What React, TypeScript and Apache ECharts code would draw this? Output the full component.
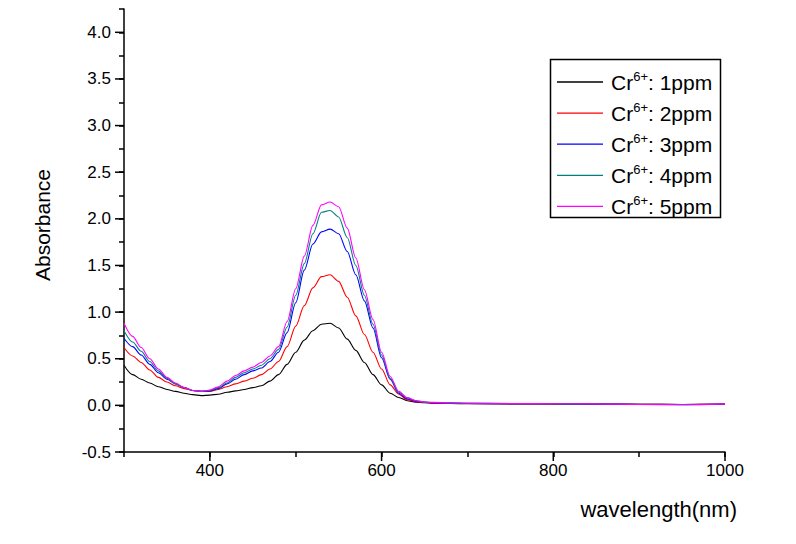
import React, { useEffect, useRef } from "react";
import * as echarts from "echarts";

const WAVELENGTH = [
  300, 310, 320, 330, 340, 350, 360, 370, 380, 390, 400, 410, 420, 430, 440, 450, 460, 470,
  480, 490, 500, 510, 520, 530, 540,
  550, 560, 570, 580, 590, 600, 610, 620, 630, 640,
  650, 660, 680, 700, 750, 800, 850, 900, 950, 1000,
];

const PPM_1 = [
  0.43, 0.33, 0.28, 0.24, 0.2, 0.17, 0.15, 0.13, 0.115, 0.105, 0.11, 0.12, 0.14, 0.155, 0.17, 0.19, 0.21, 0.26,
  0.33, 0.44, 0.57, 0.7, 0.8, 0.87, 0.88,
  0.83, 0.71, 0.59, 0.46, 0.33, 0.22, 0.13, 0.085, 0.05, 0.035,
  0.028, 0.024, 0.02, 0.018, 0.016, 0.015, 0.014, 0.012, 0.01, 0.012,
];
const PPM_2 = [
  0.62, 0.53, 0.46, 0.38, 0.3, 0.25, 0.21, 0.18, 0.16, 0.15, 0.15, 0.17, 0.2, 0.23, 0.26, 0.29, 0.33, 0.39,
  0.47, 0.63, 0.85, 1.07, 1.26, 1.38, 1.4,
  1.33, 1.16, 0.96, 0.76, 0.57, 0.39, 0.22, 0.12, 0.06, 0.04,
  0.03, 0.026, 0.022, 0.02, 0.018, 0.016, 0.015, 0.012, 0.01, 0.014,
];
const PPM_3 = [
  0.72, 0.63, 0.54, 0.44, 0.35, 0.28, 0.23, 0.19, 0.16, 0.15, 0.155, 0.18, 0.23, 0.28, 0.33, 0.37, 0.4, 0.47,
  0.57, 0.78, 1.1, 1.45, 1.73, 1.86, 1.89,
  1.84, 1.65, 1.4, 1.12, 0.83, 0.51, 0.28, 0.13, 0.07, 0.045,
  0.032, 0.028, 0.024, 0.02, 0.018, 0.018, 0.012, 0.01, 0.008, 0.015,
];
const PPM_4 = [
  0.8, 0.68, 0.58, 0.47, 0.37, 0.29, 0.23, 0.19, 0.16, 0.15, 0.16, 0.19, 0.24, 0.3, 0.35, 0.39, 0.43, 0.5,
  0.6, 0.84, 1.18, 1.52, 1.84, 2.07, 2.09,
  2.02, 1.8, 1.5, 1.18, 0.87, 0.54, 0.29, 0.14, 0.08, 0.05,
  0.035, 0.03, 0.025, 0.022, 0.02, 0.018, 0.015, 0.012, 0.01, 0.015,
];
const PPM_5 = [
  0.88, 0.74, 0.62, 0.5, 0.39, 0.3, 0.24, 0.19, 0.16, 0.15, 0.165, 0.2, 0.26, 0.32, 0.37, 0.41, 0.46, 0.53,
  0.63, 0.9, 1.25, 1.6, 1.93, 2.15, 2.18,
  2.13, 1.9, 1.58, 1.24, 0.92, 0.57, 0.31, 0.15, 0.08, 0.05,
  0.036, 0.032, 0.026, 0.024, 0.02, 0.018, 0.016, 0.01, 0.006, 0.016,
];

const SERIES_VALUES = [PPM_1, PPM_2, PPM_3, PPM_4, PPM_5];
const SERIES_LABELS = ["1ppm", "2ppm", "3ppm", "4ppm", "5ppm"];
const SERIES_COLORS = ["#000000", "#FF0000", "#0000FF", "#008080", "#FF00FF"];

const X_MIN = 300;
const X_MAX = 1000;
const Y_MIN = -0.5;
const Y_MAX = 4.25;
const X_MAJOR = [400, 600, 800, 1000];
const Y_MAJOR = [-0.5, 0, 0.5, 1, 1.5, 2, 2.5, 3, 3.5, 4];

const FONT = "'Liberation Sans', Arial, sans-serif";

export default function App() {
  const ref = useRef<HTMLDivElement>(null);

  useEffect(() => {
    if (!ref.current) return;
    const chart = echarts.init(ref.current, undefined, { renderer: "svg" });

    const names = SERIES_LABELS.map((l) => `Cr6+: ${l}`);

    const lineSeries = SERIES_VALUES.map((vals, i) => ({
      name: names[i],
      type: "line",
      data: WAVELENGTH.map((w, j) => [w, vals[j]]),
      showSymbol: false,
      symbol: "none",
      smooth: 0.3,
      smoothMonotone: "x",
      lineStyle: { color: SERIES_COLORS[i], width: 1.1 },
      itemStyle: { color: SERIES_COLORS[i] },
      z: 2 + i,
    }));

    const tickStyle = { stroke: "#000", lineWidth: 1.5 };

    const option: any = {
      animation: false,
      backgroundColor: "#fff",
      grid: { left: 124, right: 71, top: 9, bottom: 92, containLabel: false },
      xAxis: {
        type: "value",
        min: X_MIN,
        max: X_MAX,
        interval: 100,
        axisLine: { show: true, onZero: false, lineStyle: { color: "#000", width: 1.5 } },
        axisTick: { show: true, inside: false, length: 5, lineStyle: { color: "#000", width: 1.5 } },
        axisLabel: {
          color: "#000",
          fontSize: 17,
          fontFamily: FONT,
          margin: 10,
          formatter: (v: number) => (Math.round(v) % 200 === 0 ? String(Math.round(v)) : ""),
        },
        splitLine: { show: false },
      },
      yAxis: {
        type: "value",
        min: Y_MIN,
        max: Y_MAX,
        interval: 0.25,
        axisLine: { show: true, onZero: false, lineStyle: { color: "#000", width: 1.5 } },
        axisTick: { show: true, inside: false, length: 5, lineStyle: { color: "#000", width: 1.5 } },
        axisLabel: {
          color: "#000",
          fontSize: 17,
          fontFamily: FONT,
          margin: 13,
          formatter: (v: number) =>
            Math.abs(v * 2 - Math.round(v * 2)) < 1e-6 && v <= 4.0001 ? v.toFixed(1) : "",
        },
        splitLine: { show: false },
      },
      legend: {
        show: true,
        orient: "vertical",
        left: 557,
        top: 70,
        itemWidth: 46,
        itemHeight: 1.3,
        itemGap: 8.6,
        icon: "rect",
        padding: 0,
        data: names,
        formatter: (name: string) => `{f|Cr}{s|6+}{c|: ${name.split(": ")[1]}}`,
        textStyle: {
          color: "#000",
          fontFamily: FONT,
          fontSize: 21,
          rich: {
            f: { fontSize: 21, fontFamily: FONT, color: "#000", lineHeight: 24, padding: [0, 0, 0, 3] },
            c: { fontSize: 21, fontFamily: FONT, color: "#000", lineHeight: 24 },
            s: { fontSize: 13, fontFamily: FONT, color: "#000", lineHeight: 13, verticalAlign: "top" },
          },
        },
      },
      graphic: [
        {
          type: "rect",
          shape: { x: 550.5, y: 59.5, width: 170, height: 158 },
          style: { fill: "none", stroke: "#000", lineWidth: 1.5 },
          z: 10,
        },
        {
          type: "text",
          x: 42,
          y: 225,
          rotation: Math.PI / 2,
          style: {
            text: "Absorbance",
            fontSize: 21,
            fontFamily: FONT,
            fill: "#000",
            align: "center",
            verticalAlign: "middle",
          },
        },
        {
          type: "text",
          x: 737,
          y: 509,
          style: {
            text: "wavelength(nm)",
            fontSize: 22,
            fontFamily: FONT,
            fill: "#000",
            align: "right",
            verticalAlign: "middle",
          },
        },
      ],
      series: [
        ...lineSeries,
        {
          type: "custom",
          name: "xMajorTicks",
          coordinateSystem: "cartesian2d",
          silent: true,
          clip: false,
          z: 20,
          data: X_MAJOR.map((v) => [v, Y_MIN]),
          renderItem: (params: any, api: any) => {
            const p = api.coord([api.value(0), api.value(1)]);
            return {
              type: "line",
              shape: { x1: p[0], y1: p[1], x2: p[0], y2: p[1] + 9 },
              style: tickStyle,
            };
          },
        },
        {
          type: "custom",
          name: "yMajorTicks",
          coordinateSystem: "cartesian2d",
          silent: true,
          clip: false,
          z: 20,
          data: Y_MAJOR.map((v) => [X_MIN, v]),
          renderItem: (params: any, api: any) => {
            const p = api.coord([api.value(0), api.value(1)]);
            return {
              type: "line",
              shape: { x1: p[0] - 9, y1: p[1], x2: p[0], y2: p[1] },
              style: tickStyle,
            };
          },
        },
      ],
    };

    chart.setOption(option);
    return () => chart.dispose();
  }, []);

  return (
    <div
      ref={ref}
      style={{ position: "absolute", left: 0, top: 0, width: 796, height: 544, background: "#fff" }}
    />
  );
}
